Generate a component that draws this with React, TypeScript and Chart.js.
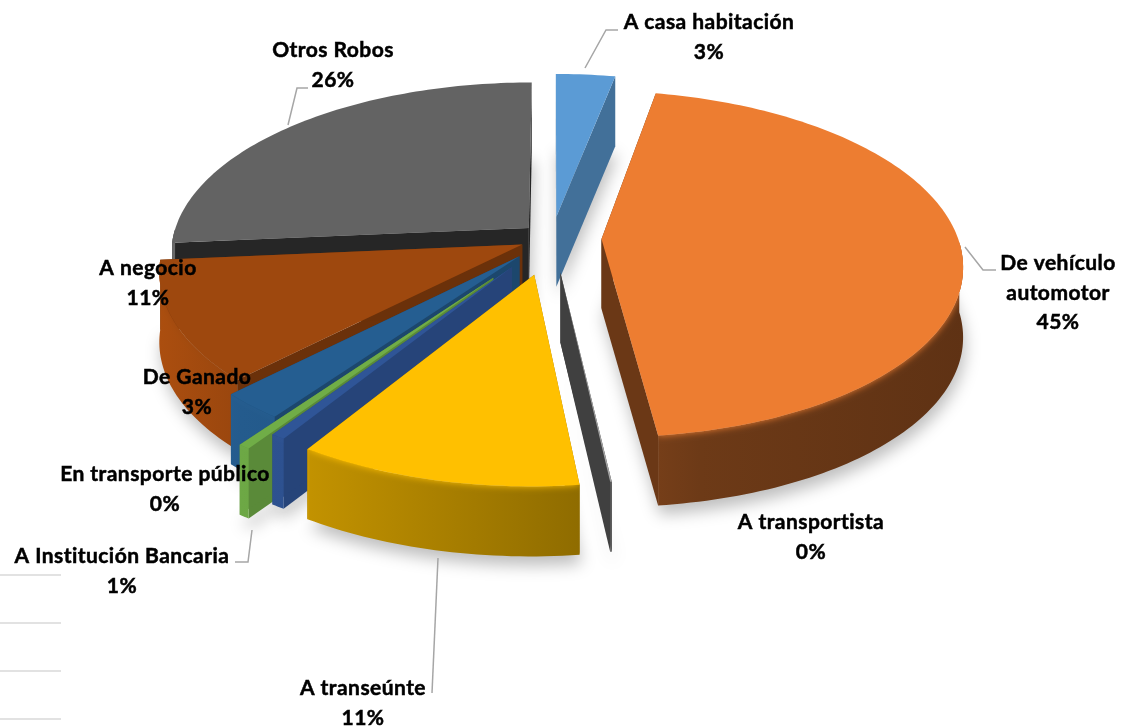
import React, { useEffect, useRef } from "react";
import { Chart, registerables } from "chart.js";

Chart.register(...registerables);

// ---- data ----
const categories = ["A casa habitación", "De vehículo automotor", "A transportista", "A transeúnte", "A Institución Bancaria", "En transporte público", "De Ganado", "A negocio", "Otros Robos"];
const values = [3.1, 45.05, 0.06, 10.74, 0.55, 0.45, 2.5, 11.15, 26.4];
const colors = ["#5B9BD5", "#ED7D31", "#A5A5A5", "#FFC000", "#2F5597", "#70AD47", "#255E91", "#9E480E", "#636363"];

// ---- style ----
const explode = [46, 50, 72, 78, 72, 100, 50, 33, 32];
const cutShade = [0.72, 0.45, 0.39, 0.6, 0.8, 0.8, 0.75, 0.68, 0.38];
const labelLines = [
  ["A casa habitación"], ["De vehículo", "automotor"], ["A transportista"], ["A transeúnte"],
  ["A Institución Bancaria"], ["En transporte público"], ["De Ganado"], ["A negocio"], ["Otros Robos"],
];
const labelAnchors = [
  [709, 29], [1058, 270], [811, 529], [363, 695], [122, 563], [165, 481], [197, 384], [148, 275], [333, 57],
];
const leaders = [
  [[585, 68], [606, 30], [618, 30]],
  [[965, 247], [983, 270], [996, 270]],
  [[438, 558], [432, 693]],
  [[252, 530], [248, 562], [235, 562]],
  [[288, 125], [297, 88], [308, 88]],
];
const sideRules = [575, 623, 671, 719];
const RADIUS = 360;
const DEPTH = 70;
const PERSP = 0.1445;
const SQUASH = 0.47;
const XSCALE = 0.99;
const wallShades = [[160, 1.08], [240, 0.97], [300, 0.95], [310, 0.76], [580, 0.56], [650, 0.5], [700, 0.46], [965, 0.4]];

function hexRgb(hex: string) {
  const n = parseInt(hex.slice(1), 16);
  return [(n >> 16) & 255, (n >> 8) & 255, n & 255];
}
function shade(hex: string, k: number) {
  const [r, g, b] = hexRgb(hex);
  const c = (v: number) => Math.min(255, Math.round(v * k));
  return `rgb(${c(r)},${c(g)},${c(b)})`;
}

type Pt = [number, number];

function sliceGeom(arc: any, i: number) {
  const { x, y, startAngle, endAngle, outerRadius } = arc;
  const mid = (startAngle + endAngle) / 2;
  const off = explode[i];
  const ox = off * Math.cos(mid);
  const oy = off * Math.sin(mid);
  const proj = (dx: number, dy: number): Pt => {
    const w = 1 - (PERSP * dy) / RADIUS;
    return [x + (XSCALE * dx) / w, y + (SQUASH * dy) / w];
  };
  const tip = proj(ox, oy);
  const rim: Pt[] = [];
  const front: Pt[] = [];
  const steps = Math.max(4, Math.ceil((endAngle - startAngle) / 0.02));
  for (let s = 0; s <= steps; s++) {
    const a = startAngle + ((endAngle - startAngle) * s) / steps;
    const p = proj(ox + outerRadius * Math.cos(a), oy + outerRadius * Math.sin(a));
    rim.push(p);
    if (Math.sin(a) > 0) front.push(p);
  }
  return { mid, tip, rim, front };
}

function trace(ctx: CanvasRenderingContext2D, pts: Pt[], dx = 0, dy = 0) {
  pts.forEach((p, k) => (k ? ctx.lineTo(p[0] + dx, p[1] + dy) : ctx.moveTo(p[0] + dx, p[1] + dy)));
}

function wallPoints(rim: Pt[]): Pt[] {
  const back = rim.slice().reverse().map((p) => [p[0], p[1] + DEPTH] as Pt);
  return [...rim, ...back];
}

const pie3d = {
  id: "pie3d",
  beforeDatasetDraw(chart: any) {
    const ctx: CanvasRenderingContext2D = chart.ctx;
    const arcs = chart.getDatasetMeta(0).data;
    const geoms = arcs.map((a: any, i: number) => ({ i, arc: a, ...sliceGeom(a, i) }));
    const order = geoms.slice().sort((p: any, q: any) => Math.sin(p.mid) - Math.sin(q.mid));

    // soft shadows
    ctx.save();
    const far = 3000;
    ctx.shadowColor = "rgba(0,0,0,0.26)";
    ctx.shadowBlur = 16;
    ctx.shadowOffsetX = far + 2;
    ctx.shadowOffsetY = 9;
    ctx.fillStyle = "#000";
    geoms.forEach((g: any) => {
      const top: Pt[] = [g.tip, ...g.rim];
      ctx.beginPath();
      trace(ctx, top, -far, DEPTH);
      ctx.closePath();
      ctx.fill();
    });
    ctx.restore();

    order.forEach((g: any) => {
      const color = arcs[g.i].options.backgroundColor;
      const top: Pt[] = [g.tip, ...g.rim];
      const first = g.rim[0];
      const last = g.rim[g.rim.length - 1];
      const wall = wallPoints(g.front);

      // flat cuts
      ctx.fillStyle = shade(color, cutShade[g.i]);
      [first, last].forEach((p: Pt) => {
        ctx.beginPath();
        trace(ctx, [g.tip, p, [p[0], p[1] + DEPTH], [g.tip[0], g.tip[1] + DEPTH]]);
        ctx.closePath();
        ctx.fill();
      });

      if (wall.length > 2) {
        // outer wall
        const grad = ctx.createLinearGradient(0, 0, chart.width, 0);
        wallShades.forEach(([x, k]) => grad.addColorStop(x / chart.width, shade(color, k)));
        ctx.fillStyle = grad;
        ctx.beginPath();
        trace(ctx, wall);
        ctx.closePath();
        ctx.fill();

        // soft bevel between the top and the wall
        ctx.save();
        ctx.beginPath();
        trace(ctx, wall);
        ctx.closePath();
        ctx.clip();
        ctx.shadowColor = color;
        ctx.shadowBlur = 7;
        ctx.fillStyle = color;
        ctx.beginPath();
        trace(ctx, top);
        ctx.closePath();
        ctx.fill();
        ctx.restore();
      }

      // top face
      ctx.fillStyle = color;
      ctx.beginPath();
      trace(ctx, top);
      ctx.closePath();
      ctx.fill();
    });
    return false;
  },
  afterDraw(chart: any) {
    const ctx: CanvasRenderingContext2D = chart.ctx;
    ctx.save();
    ctx.strokeStyle = "#D9D9D9";
    ctx.lineWidth = 1.5;
    sideRules.forEach((y) => {
      ctx.beginPath();
      ctx.moveTo(0, y);
      ctx.lineTo(61, y);
      ctx.stroke();
    });
    ctx.strokeStyle = "#A6A6A6";
    leaders.forEach((l) => {
      ctx.beginPath();
      trace(ctx, l as Pt[]);
      ctx.stroke();
    });
    const total = values.reduce((a, b) => a + b, 0);
    ctx.fillStyle = "#000";
    ctx.strokeStyle = "#000";
    ctx.lineWidth = 0.5;
    ctx.font = "bold 21px Lato";
    (ctx as any).letterSpacing = "0.45px";
    ctx.textAlign = "center";
    ctx.textBaseline = "alphabetic";
    categories.forEach((_, i) => {
      const [x, y] = labelAnchors[i];
      const lines = [...labelLines[i], `${Math.round((values[i] / total) * 100)}%`];
      lines.forEach((t, k) => {
        ctx.fillText(t, x, y + k * 29.5);
        ctx.strokeText(t, x, y + k * 29.5);
      });
    });
    ctx.restore();
  },
};

export default function App() {
  const ref = useRef<HTMLCanvasElement>(null);
  useEffect(() => {
    const chart = new Chart(ref.current!, {
      type: "pie",
      data: {
        labels: categories,
        datasets: [{ data: values, backgroundColor: colors, borderWidth: 0, clip: false } as any],
      },
      options: {
        animation: false,
        responsive: false,
        radius: RADIUS,
        layout: { padding: { right: 22, bottom: 251 } },
        plugins: { legend: { display: false }, tooltip: { enabled: false } },
      } as any,
      plugins: [pie3d],
    });
    return () => chart.destroy();
  }, []);
  return (
    <div style={{ position: "absolute", left: 0, top: 0 }}>
      <canvas ref={ref} width={1126} height={727} style={{ display: "block" }} />
    </div>
  );
}
